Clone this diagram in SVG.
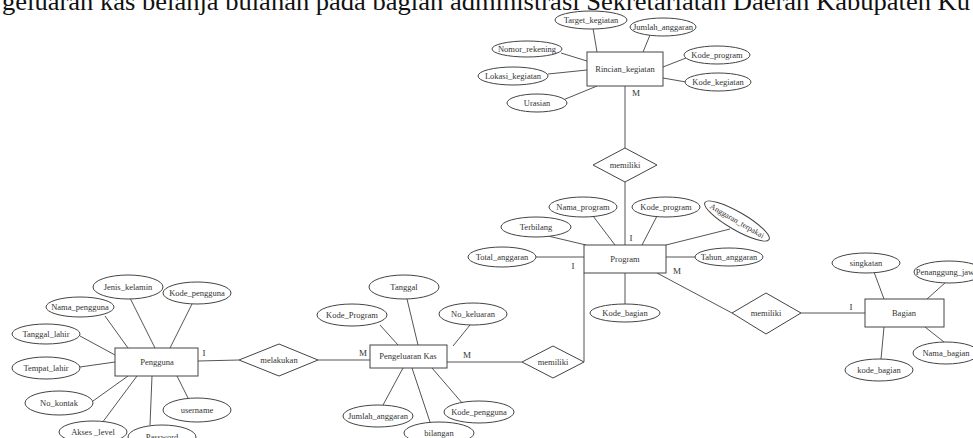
<svg xmlns="http://www.w3.org/2000/svg" width="973" height="438" viewBox="0 0 973 438">
<style>
  .ent rect { fill: #fff; stroke: #444; stroke-width: 1; }
  .att ellipse { fill: #fff; stroke: #444; stroke-width: 1; }
  .rel polygon { fill: #fff; stroke: #444; stroke-width: 1; }
  text { font-family: "Liberation Serif", "Times New Roman", serif; font-size: 8.5px; fill: #333; text-anchor: middle; dominant-baseline: central; }
  .card { font-size: 9px; fill: #333; }
  #connectors line, #connectors polyline { stroke: #555; stroke-width: 1; fill: none; }
  .title { font-size: 25px; fill: #111; text-anchor: start; dominant-baseline: alphabetic; }
</style>
<rect width="973" height="438" fill="#fff"/>
<text class="title" x="2" y="9.5" textLength="968" lengthAdjust="spacingAndGlyphs">geluaran kas belanja bulanan pada bagian administrasi Sekretariatan Daerah Kabupaten Ku</text>

<g id="connectors">
  <!-- Rincian_kegiatan attributes -->
  <line x1="593" y1="28" x2="597" y2="52"/>
  <line x1="650" y1="35" x2="643" y2="52"/>
  <line x1="561" y1="53" x2="587" y2="61"/>
  <line x1="686" y1="58" x2="663" y2="67"/>
  <line x1="548" y1="74" x2="587" y2="70"/>
  <line x1="663" y1="78" x2="686" y2="82"/>
  <line x1="563" y1="100" x2="597" y2="86"/>
  <!-- Rincian - memiliki - Program -->
  <line x1="625" y1="86" x2="625" y2="148"/>
  <line x1="625" y1="182" x2="625" y2="245"/>
  <!-- Program attributes -->
  <line x1="593" y1="216" x2="615" y2="245"/>
  <line x1="657" y1="216" x2="642" y2="245"/>
  <line x1="730" y1="229" x2="666" y2="245"/>
  <line x1="548" y1="236" x2="586" y2="245"/>
  <line x1="536" y1="257" x2="584" y2="257"/>
  <line x1="666" y1="257" x2="695" y2="257"/>
  <line x1="625" y1="273" x2="625" y2="304"/>
  <!-- Program - memiliki - Pengeluaran -->
  <polyline points="584,273 584,362"/>
  <line x1="447" y1="362" x2="522" y2="362"/>
  <!-- Program - memiliki - Bagian -->
  <line x1="657" y1="273" x2="732" y2="313"/>
  <line x1="801" y1="313" x2="865" y2="313"/>
  <!-- Bagian attributes -->
  <line x1="874" y1="272" x2="884" y2="299"/>
  <line x1="946" y1="282" x2="927" y2="299"/>
  <line x1="925" y1="327" x2="944" y2="342"/>
  <line x1="884" y1="327" x2="881" y2="359"/>
  <!-- Pengguna - melakukan - Pengeluaran -->
  <line x1="198" y1="361" x2="239" y2="360"/>
  <line x1="318" y1="360" x2="370" y2="360"/>
  <!-- Pengeluaran attributes -->
  <line x1="407" y1="299" x2="418" y2="345"/>
  <line x1="380" y1="325" x2="398" y2="345"/>
  <line x1="470" y1="325" x2="453" y2="346"/>
  <line x1="383" y1="405" x2="403" y2="368"/>
  <line x1="430" y1="422" x2="412" y2="368"/>
  <line x1="463" y1="404" x2="432" y2="368"/>
  <!-- Pengguna attributes -->
  <line x1="130" y1="298" x2="155" y2="348"/>
  <line x1="192" y1="304" x2="170" y2="348"/>
  <line x1="105" y1="316" x2="128" y2="348"/>
  <line x1="80" y1="336" x2="115" y2="355"/>
  <line x1="80" y1="367" x2="115" y2="362"/>
  <line x1="93" y1="401" x2="128" y2="376"/>
  <line x1="102" y1="423" x2="137" y2="376"/>
  <line x1="150" y1="425" x2="152" y2="376"/>
  <line x1="188" y1="398" x2="177" y2="376"/>
</g>

<!-- Entities -->
<g id="rincian_kegiatan" class="ent"><rect x="587" y="52" width="76" height="34"/><text x="625" y="69">Rincian_kegiatan</text></g>
<g id="program" class="ent"><rect x="584" y="245" width="82" height="28"/><text x="625" y="259">Program</text></g>
<g id="pengeluaran_kas" class="ent"><rect x="370" y="345" width="77" height="23"/><text x="408" y="356">Pengeluaran Kas</text></g>
<g id="pengguna" class="ent"><rect x="115" y="348" width="83" height="28"/><text x="157" y="362">Pengguna</text></g>
<g id="bagian" class="ent"><rect x="865" y="299" width="79" height="28"/><text x="904" y="313">Bagian</text></g>

<!-- Relationships -->
<g id="rel_memiliki_rincian" class="rel"><polygon points="625,148 657,165 625,182 593,165"/><text x="625" y="165">memiliki</text></g>
<g id="rel_memiliki_pengeluaran" class="rel"><polygon points="553,346 584,362 553,378 522,362"/><text x="553" y="362">memiliki</text></g>
<g id="rel_memiliki_bagian" class="rel"><polygon points="766,293 801,313 766,334 732,313"/><text x="766" y="313">memiliki</text></g>
<g id="rel_melakukan" class="rel"><polygon points="279,344 318,360 279,376 239,360"/><text x="279" y="360">melakukan</text></g>

<!-- Rincian_kegiatan attributes -->
<g id="att_target_kegiatan" class="att"><ellipse cx="591" cy="20" rx="36" ry="9"/><text x="591" y="20">Target_kegiatan</text></g>
<g id="att_jumlah_anggaran_r" class="att"><ellipse cx="663" cy="27" rx="33" ry="9"/><text x="663" y="27">Jumlah_anggaran</text></g>
<g id="att_nomor_rekening" class="att"><ellipse cx="527" cy="49" rx="35" ry="8"/><text x="527" y="49">Nomor_rekening</text></g>
<g id="att_kode_program_r" class="att"><ellipse cx="717" cy="55" rx="33" ry="9"/><text x="717" y="55">Kode_program</text></g>
<g id="att_lokasi_kegiatan" class="att"><ellipse cx="513" cy="76" rx="35" ry="9"/><text x="513" y="76">Lokasi_kegiatan</text></g>
<g id="att_kode_kegiatan" class="att"><ellipse cx="718" cy="82" rx="33" ry="9"/><text x="718" y="82">Kode_kegiatan</text></g>
<g id="att_urasian" class="att"><ellipse cx="537" cy="103" rx="30" ry="9"/><text x="537" y="103">Urasian</text></g>

<!-- Program attributes -->
<g id="att_nama_program" class="att"><ellipse cx="583" cy="207" rx="34" ry="10"/><text x="583" y="207">Nama_program</text></g>
<g id="att_kode_program_p" class="att"><ellipse cx="666" cy="207" rx="34" ry="10"/><text x="666" y="207">Kode_program</text></g>
<g id="att_anggaran_terpakai" class="att" transform="rotate(30 737 221)"><ellipse cx="737" cy="221" rx="37" ry="9"/><text x="737" y="221" style="font-size:8px">Anggaran_terpakai</text></g>
<g id="att_terbilang" class="att"><ellipse cx="536" cy="227" rx="35" ry="10"/><text x="536" y="227">Terbilang</text></g>
<g id="att_total_anggaran" class="att"><ellipse cx="502" cy="257" rx="34" ry="10"/><text x="502" y="257">Total_anggaran</text></g>
<g id="att_tahun_anggaran" class="att"><ellipse cx="729" cy="257" rx="34" ry="9"/><text x="729" y="257">Tahun_anggaran</text></g>
<g id="att_kode_bagian_p" class="att"><ellipse cx="625" cy="313" rx="35" ry="9"/><text x="625" y="313">Kode_bagian</text></g>

<!-- Bagian attributes -->
<g id="att_singkatan" class="att"><ellipse cx="866" cy="263" rx="34" ry="10"/><text x="866" y="263">singkatan</text></g>
<g id="att_penanggung_jawab" class="att"><ellipse cx="949" cy="272" rx="35" ry="11"/><text x="949" y="272">Penanggung_jawab</text></g>
<g id="att_nama_bagian" class="att"><ellipse cx="946" cy="353" rx="33" ry="11"/><text x="946" y="353">Nama_bagian</text></g>
<g id="att_kode_bagian_b" class="att"><ellipse cx="879" cy="370" rx="34" ry="11"/><text x="879" y="370">kode_bagian</text></g>

<!-- Pengeluaran Kas attributes -->
<g id="att_tanggal" class="att"><ellipse cx="404" cy="287" rx="35" ry="12"/><text x="404" y="287">Tanggal</text></g>
<g id="att_kode_program_k" class="att"><ellipse cx="352" cy="315" rx="35" ry="11"/><text x="352" y="315">Kode_Program</text></g>
<g id="att_no_keluaran" class="att"><ellipse cx="473" cy="314" rx="34" ry="11"/><text x="473" y="314">No_keluaran</text></g>
<g id="att_jumlah_anggaran_k" class="att"><ellipse cx="378" cy="416" rx="35" ry="11"/><text x="378" y="416">Jumlah_anggaran</text></g>
<g id="att_bilangan" class="att"><ellipse cx="439" cy="433" rx="35" ry="11"/><text x="439" y="433">bilangan</text></g>
<g id="att_kode_pengguna_k" class="att"><ellipse cx="479" cy="412" rx="35" ry="11"/><text x="479" y="412">Kode_pengguna</text></g>

<!-- Pengguna attributes -->
<g id="att_jenis_kelamin" class="att"><ellipse cx="128" cy="287" rx="35" ry="12"/><text x="128" y="287">Jenis_kelamin</text></g>
<g id="att_kode_pengguna_u" class="att"><ellipse cx="197" cy="293" rx="34" ry="11"/><text x="197" y="293">Kode_pengguna</text></g>
<g id="att_nama_pengguna" class="att"><ellipse cx="80" cy="307" rx="34" ry="10"/><text x="80" y="307">Nama_pengguna</text></g>
<g id="att_tanggal_lahir" class="att"><ellipse cx="46" cy="334" rx="34" ry="10"/><text x="46" y="334">Tanggal_lahir</text></g>
<g id="att_tempat_lahir" class="att"><ellipse cx="46" cy="368" rx="34" ry="11"/><text x="46" y="368">Tempat_lahir</text></g>
<g id="att_no_kontak" class="att"><ellipse cx="59" cy="403" rx="34" ry="12"/><text x="59" y="403">No_kontak</text></g>
<g id="att_akses_level" class="att"><ellipse cx="93" cy="432" rx="34" ry="11"/><text x="93" y="432">Akses _level</text></g>
<g id="att_password" class="att"><ellipse cx="162" cy="437" rx="34" ry="12"/><text x="162" y="437">Password</text></g>
<g id="att_username" class="att"><ellipse cx="197" cy="410" rx="34" ry="12"/><text x="197" y="410">username</text></g>

<!-- Cardinalities -->
<g id="cardinalities">
  <text class="card" x="636" y="93">M</text>
  <text class="card" x="631" y="238">I</text>
  <text class="card" x="573" y="266">I</text>
  <text class="card" x="677" y="271">M</text>
  <text class="card" x="851" y="307">I</text>
  <text class="card" x="467" y="355">M</text>
  <text class="card" x="363" y="353">M</text>
  <text class="card" x="204" y="353">I</text>
</g>
</svg>
